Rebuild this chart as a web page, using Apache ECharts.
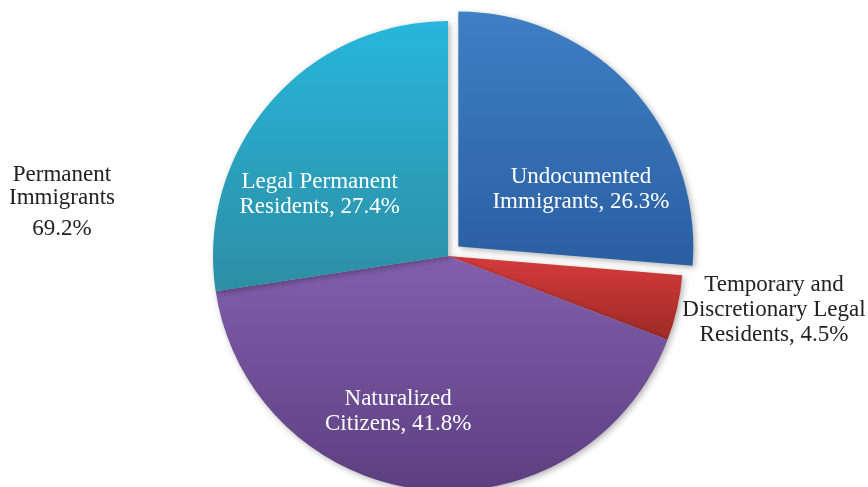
<!DOCTYPE html>
<html>
<head>
<meta charset="utf-8">
<script src="https://cdn.jsdelivr.net/npm/echarts@6/dist/echarts.min.js"></script>
<style>html,body{margin:0;padding:0;background:#fff;}#c{width:868px;height:487px;}</style>
</head>
<body>
<div id="c"></div>
<script>
var categories = ['Undocumented\nImmigrants', 'Temporary and\nDiscretionary Legal\nResidents', 'Naturalized\nCitizens', 'Legal Permanent\nResidents'];
var values = [26.3, 4.5, 41.8, 27.4];
var groupLabel = 'Permanent\nImmigrants';
var groupValue = '69.2%';

var topColors = ['#3f7fc4', '#d53b3b', '#825fae', '#27b6dc'];
var bottomColors = ['#2a5fa2', '#9e2a26', '#5c3f80', '#2d8ea4'];
var labelShift = [[34, 25], null, [-37, 36], [-37, 17]];
var serif = '"Liberation Serif", "Times New Roman", serif';

var chart = echarts.init(document.getElementById('c'));
var data = categories.map(function (n, i) {
  return {
    name: n,
    value: values[i],
    selected: i === 0,
    itemStyle: {
      color: new echarts.graphic.LinearGradient(0, 0, 0, 1, [
        { offset: 0, color: topColors[i] },
        { offset: 1, color: bottomColors[i] }
      ])
    },
    label: i === 1 ? {
      position: 'outside', color: '#222', align: 'center'
    } : { position: 'inside', color: '#fff' },
    labelLine: { show: false }
  };
});

chart.setOption({
  animation: false,
  title: {
    text: groupLabel,
    subtext: groupValue,
    left: 57,
    top: 158,
    textAlign: 'center',
    itemGap: 8,
    textStyle: { fontFamily: serif, fontSize: 23, fontWeight: 'normal', color: '#222', lineHeight: 23 },
    subtextStyle: { fontFamily: serif, fontSize: 23, color: '#222', lineHeight: 23 }
  },
  series: [{
    type: 'pie',
    center: [448, 256],
    radius: 235,
    startAngle: 90,
    clockwise: true,
    selectedMode: 'single',
    selectedOffset: 14,
    avoidLabelOverlap: false,
    itemStyle: { shadowBlur: 6, shadowColor: 'rgba(0,0,0,0.3)', shadowOffsetX: 2, shadowOffsetY: 2 },
    emphasis: { disabled: true },
    label: {
      formatter: '{b}, {c}%',
      fontFamily: serif,
      fontSize: 23,
      lineHeight: 25
    },
    labelLayout: function (p) {
      var s = labelShift[p.dataIndex];
      if (s) return { dx: s[0], dy: s[1] };
      return { x: 774, y: 310, align: 'center', verticalAlign: 'middle' };
    },
    data: data
  }]
});
</script>
</body>
</html>
